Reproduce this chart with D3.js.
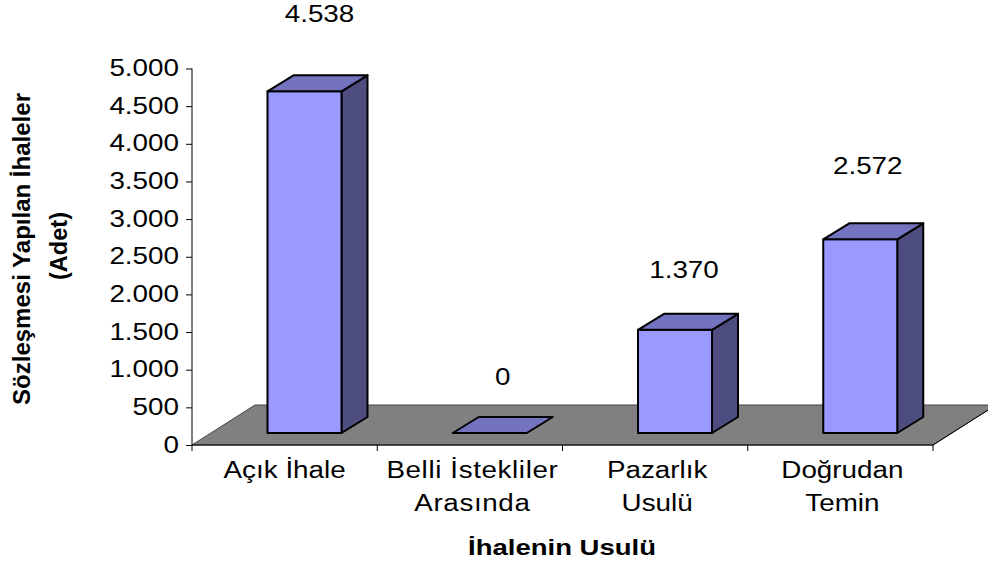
<!DOCTYPE html>
<html><head><meta charset="utf-8">
<script src="https://cdn.jsdelivr.net/npm/d3@7"></script>
<style>html,body{margin:0;padding:0;background:#fff}svg{display:block}text{font-family:"Liberation Sans",Arial,sans-serif;fill:#000}</style>
</head><body><svg id="c" width="988" height="568"></svg>
<script>
const categories = [["Açık İhale"],["Belli İstekliler","Arasında"],["Pazarlık","Usulü"],["Doğrudan","Temin"]];
const values = [4538,0,1370,2572];
const valueLabels = ["4.538","0","1.370","2.572"];
const yTicks = [0,500,1000,1500,2000,2500,3000,3500,4000,4500,5000];
const yTickLabels = ["0","500","1.000","1.500","2.000","2.500","3.000","3.500","4.000","4.500","5.000"];
const yTitle = ["Sözleşmesi Yapılan İhaleler","(Adet)"];
const xTitle = "İhalenin Usulü";

const svg = d3.select("#c");
const m = {l:192,r:933,t:68.5,b:445};
const y = d3.scaleLinear().domain([0,5000]).range([m.b,m.t]);
const x = d3.scaleBand().domain(d3.range(4)).range([m.l,m.r]);
const floorD = {x:63,y:-40}, barD = {x:26,y:-16};
const barW = 74, barShift = 75.5, floorLift = 12;
const pts = a => a.map(p=>p.join(",")).join(" ");

// floor
svg.append("polygon").attr("points",pts([[m.l,m.b],[m.r,m.b],[m.r+floorD.x,m.b+floorD.y],[m.l+floorD.x,m.b+floorD.y]]))
  .attr("fill","#808080").attr("stroke","#444").attr("stroke-width",1);
svg.append("line").attr("x1",m.r).attr("y1",m.b).attr("x2",m.r+floorD.x).attr("y2",m.b+floorD.y).attr("stroke","#000");

// bars
values.forEach((v,i)=>{
  const x0 = x(i)+barShift, x1 = x0+barW, yb = y(0)-floorLift, yt = y(v)-floorLift;
  const g = svg.append("g").attr("stroke","#000").attr("stroke-width",2).attr("stroke-linejoin","round");
  if(v>0){
    g.append("polygon").attr("points",pts([[x1,yb],[x1+barD.x,yb+barD.y],[x1+barD.x,yt+barD.y],[x1,yt]])).attr("fill","#4d4d7f");
    g.append("rect").attr("x",x0).attr("y",yt).attr("width",barW).attr("height",yb-yt).attr("fill","#9999ff");
  }
  g.append("polygon").attr("points",pts([[x0,yt],[x0+barD.x,yt+barD.y],[x1+barD.x,yt+barD.y],[x1,yt]])).attr("fill","#7373bf");
});

// axes
const wide = 1.21;
const yAxis = svg.append("g").attr("transform",`translate(${m.l},0)`)
  .call(d3.axisLeft(y).tickValues(yTicks).tickFormat((d,i)=>yTickLabels[i]).tickSize(6).tickPadding(0));
yAxis.selectAll("path,line").attr("stroke","#000").attr("stroke-width",1);
yAxis.select("path").attr("d",`M0,${m.t}V${m.b}`);
yAxis.selectAll("text").attr("font-size",23).attr("font-family",null).attr("x",null).attr("dy",null)
  .attr("text-anchor","end").attr("transform",`translate(-13,7) scale(${wide},1)`);

const xAxis = svg.append("g").attr("transform",`translate(0,${m.b})`);
xAxis.append("line").attr("x1",m.l).attr("x2",m.r).attr("stroke","#000");
d3.range(5).forEach(i=>{
  const px = i<4 ? x(i) : m.r;
  xAxis.append("line").attr("x1",px).attr("x2",px).attr("y1",0).attr("y2",6).attr("stroke","#000");
});

function label(px,py,str,size,weight,sx){
  return svg.append("text").attr("transform",`translate(${px},${py}) scale(${sx},1)`)
    .attr("text-anchor","middle").attr("font-size",size).attr("font-weight",weight||"normal").text(str);
}
// category labels
const catShift = [0,2.5,2,2];
categories.forEach((lines,i)=>lines.forEach((s,j)=>
  label(x(i)+x.bandwidth()/2+catShift[i],478+j*32.5,s,23,"normal",wide)
    .attr("letter-spacing",i===1?0.5:0)));
// value labels
const labelLift = [69,48,52,65];
const labelShift = [15,13,9,7.5];
values.forEach((v,i)=>label(x(i)+barShift+barW/2+labelShift[i],y(v)-floorLift-labelLift[i],valueLabels[i],23,"normal",wide));
// titles
svg.append("text").attr("transform","translate(30,249) rotate(-90)").attr("text-anchor","middle")
  .attr("font-size",23).attr("font-weight","bold").attr("textLength",312).attr("lengthAdjust","spacingAndGlyphs").text(yTitle[0]);
svg.append("text").attr("transform","translate(67,246) rotate(-90)").attr("text-anchor","middle")
  .attr("font-size",23).attr("font-weight","bold").attr("textLength",68).attr("lengthAdjust","spacingAndGlyphs").text(yTitle[1]);
label(562,555,xTitle,22,"bold",1.25);
</script></body></html>
